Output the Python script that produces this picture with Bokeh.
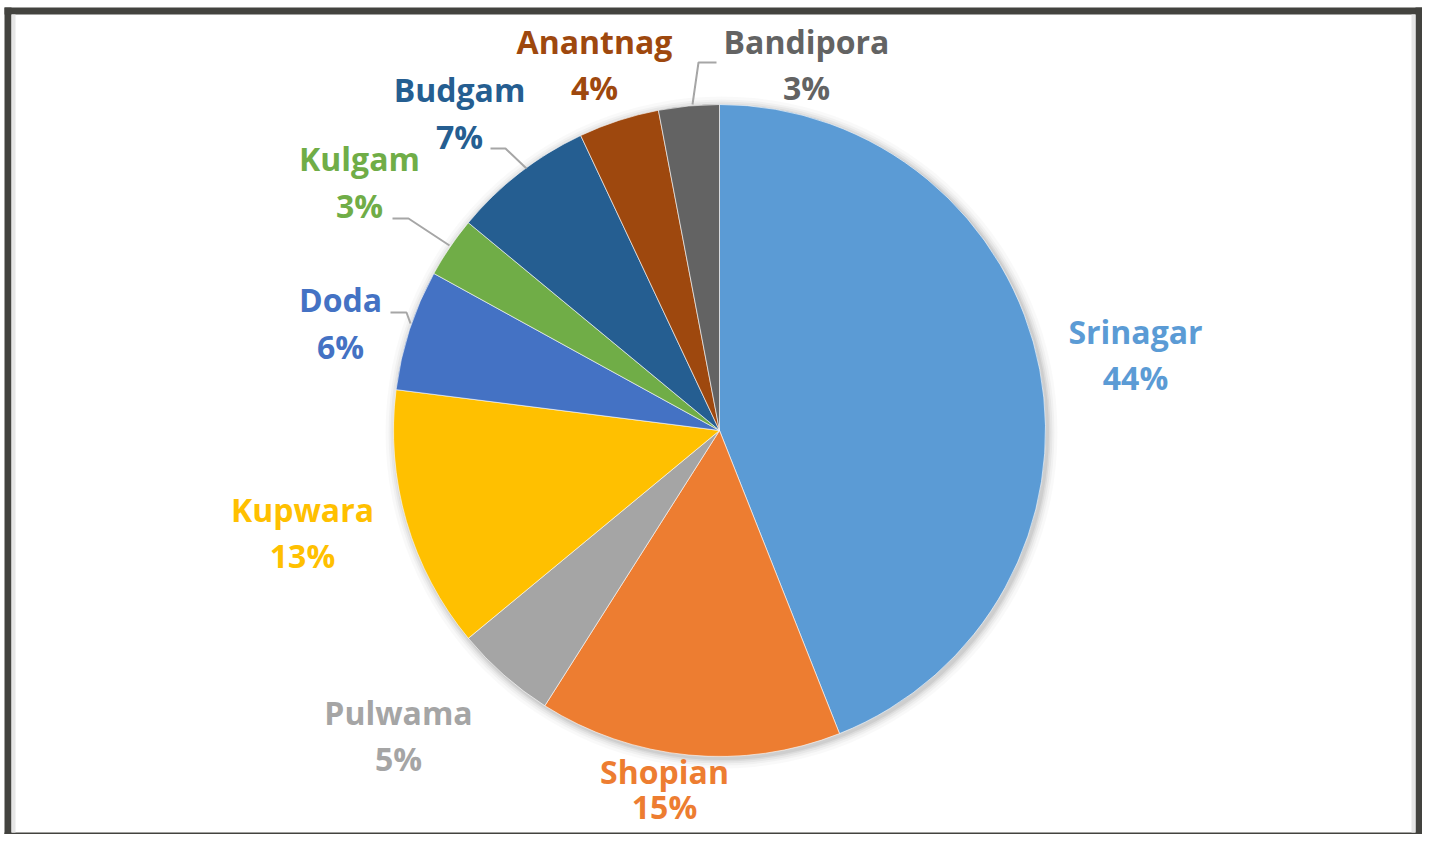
import numpy as np
from bokeh.plotting import figure
from bokeh.models import Range1d, ColumnDataSource
from bokeh.core.properties import value
from bokeh.embed import file_html
from bokeh.resources import INLINE

# ---- data ----
districts = ["Srinagar", "Shopian", "Pulwama", "Kupwara", "Doda",
             "Kulgam", "Budgam", "Anantnag", "Bandipora"]
shares = [44, 15, 5, 13, 6, 3, 7, 4, 3]
pct_labels = [f"{s}%" for s in shares]

# ---- styling ----
slice_colors = ["#5B9BD5", "#ED7D31", "#A5A5A5", "#FFC000", "#4472C4",
                "#70AD47", "#255E91", "#9E480E", "#636363"]
label_colors = ["#5B9BD5", "#ED7D31", "#A5A5A5", "#FFC000", "#4472C4",
                "#70AD47", "#255E91", "#9E480E", "#636363"]

W, H = 1422, 834
PAGE_H = 850
def py(y):  # screen y -> data y
    return PAGE_H - y

cx, cy, R = 719, py(430), 326

# label anchor positions (screen coords: name line, percent line)
label_pos = [(1135, 331, 377), (664, 771, 806), (398, 712, 758),
             (302, 509, 555), (340, 299, 346), (359, 158, 205),
             (459, 89, 136), (594, 41, 87), (806, 41, 87)]

leaders = [
    [(390, 312), (406, 312), (410, 323)],     # Doda
    [(392, 218), (408, 218), (449, 245)],     # Kulgam
    [(490, 148), (505, 148), (526, 168)],     # Budgam
    [(716, 62), (698, 62), (692, 104)],       # Bandipora
]

total = float(sum(shares))
cum = np.concatenate([[0], np.cumsum(shares)[:-1]])
hi = np.pi / 2 - 2 * np.pi * cum / total
lo = hi - 2 * np.pi * np.array(shares) / total

p = figure(width=W, height=H, output_backend="svg", toolbar_location=None,
           x_range=Range1d(0, W), y_range=Range1d(PAGE_H - H, PAGE_H),
           x_axis_location=None, y_axis_location=None, min_border=0)
p.border_fill_color = "white"
p.background_fill_color = "white"
p.outline_line_color = None
p.grid.visible = False

# outer dark frame
FR = "#43433F"
fl, ft, fb = 4, 7, H
p.quad(left=[fl, fl, W - 7, fl], right=[fl + 7, W, W, W],
       bottom=[py(fb), py(ft + 7), py(fb), py(fb)],
       top=[py(ft), py(ft), py(ft), py(fb - 2)],
       fill_color=FR, line_color=None)
# inner subtle shading next to the frame
p.quad(left=[fl + 7, W - 11], right=[fl + 11, W - 7],
       bottom=[py(fb - 2)] * 2, top=[py(ft + 7)] * 2,
       fill_color="#E6E6E6", line_color=None)

# soft shadow around pie
for k, a in zip([10, 7, 5, 3, 1.5], [0.025, 0.03, 0.04, 0.05, 0.06]):
    p.circle(x=[cx + 2], y=[cy - 2], radius=R + k, fill_color="black",
             fill_alpha=a, line_color=None)

src = ColumnDataSource(dict(start=lo, end=hi, color=slice_colors,
                            name=districts))
p.wedge(x=cx, y=cy, radius=R, start_angle="start", end_angle="end",
        fill_color="color", line_color="white", line_width=1, line_alpha=0.6,
        source=src)

# leader lines
p.multi_line(xs=[[pt[0] for pt in l] for l in leaders],
             ys=[[py(pt[1]) for pt in l] for l in leaders],
             line_color="#A6A6A6", line_width=2)

lx = [pt[0] for pt in label_pos]
ly1 = [py(pt[1]) for pt in label_pos]
ly2 = [py(pt[2]) for pt in label_pos]
tsrc = ColumnDataSource(dict(x=lx, y1=ly1, y2=ly2, name=districts,
                             pct=pct_labels, color=label_colors))
for col, ycol in (("name", "y1"), ("pct", "y2")):
    p.text(x="x", y=ycol, text=col, source=tsrc, text_color="color",
           text_font=value("Open Sans"), text_font_style="bold",
           text_font_size="32px", text_align="center",
           text_baseline="middle")

open("out.html", "w").write(file_html(p, INLINE))
